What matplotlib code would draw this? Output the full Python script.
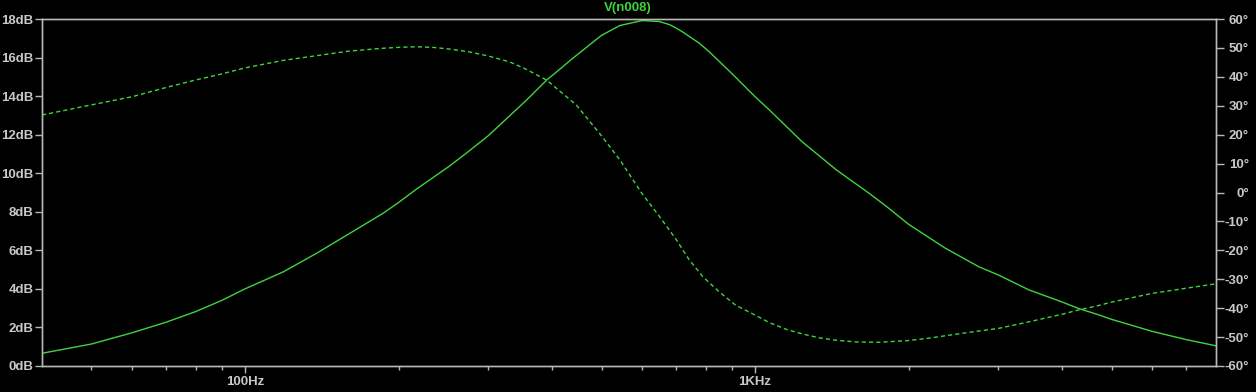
import matplotlib
matplotlib.use("Agg")
import matplotlib.pyplot as plt
from matplotlib.ticker import FixedLocator, NullFormatter

# ---- data (frequency in Hz) ----
mag_freq = [40, 50, 60, 70, 80, 90, 100, 119, 138, 160, 187, 200, 217, 252, 274,
            300, 356, 391, 405, 440, 489, 500, 543, 600, 649, 681, 700, 720, 778,
            813, 900, 1000, 1067, 1237, 1444, 1673, 1752, 1815, 2000, 2358, 2745,
            3000, 3448, 4000, 4311, 4684, 5000, 6000, 7000, 8000]
mag_db = [0.66, 1.14, 1.72, 2.27, 2.82, 3.40, 4.00, 4.89, 5.84, 6.86, 7.94, 8.48,
          9.18, 10.38, 11.12, 11.95, 13.78, 14.85, 15.18, 15.98, 16.95, 17.15,
          17.66, 17.92, 17.87, 17.70, 17.53, 17.34, 16.74, 16.30, 15.18, 13.97,
          13.28, 11.63, 10.17, 8.96, 8.56, 8.25, 7.35, 6.12, 5.15, 4.72, 3.94,
          3.32, 2.98, 2.68, 2.42, 1.80, 1.37, 1.05]

ph_freq = [40, 50, 60, 70, 80, 90, 100, 119, 138, 160, 187, 200, 217, 233, 252,
           274, 300, 330, 356, 391, 405, 446, 500, 543, 600, 649, 700, 743, 790,
           850, 915, 1000, 1067, 1150, 1237, 1340, 1444, 1580, 1752, 2000, 2186,
           2546, 3000, 3448, 4000, 4311, 4684, 5000, 6000, 7000, 8000]
ph_deg = [26.8, 30.3, 33.1, 36.3, 38.9, 41.0, 43.1, 45.7, 47.3, 48.9, 49.9, 50.2,
          50.4, 50.2, 49.6, 48.7, 47.2, 45.2, 42.6, 38.8, 36.5, 30.3, 19.6, 11.3,
          -0.3, -8.2, -16.2, -23.3, -29.1, -34.3, -38.9, -42.4, -45.0, -47.3,
          -48.9, -50.3, -51.1, -51.7, -51.8, -51.2, -50.4, -48.7, -47.0, -44.7,
          -42.1, -40.6, -39.2, -37.9, -34.9, -33.1, -31.6]

x_major = [100, 1000]
x_major_labels = ["100Hz", "1KHz"]
x_minor = [50, 60, 70, 80, 90, 200, 300, 400, 500, 600, 700, 800, 900,
           2000, 3000, 4000, 5000, 6000, 7000]
db_ticks = list(range(0, 19, 2))
db_labels = [f"{v}dB" for v in db_ticks]
deg_ticks = list(range(-60, 61, 10))
deg_labels = [f"{v}\u00b0" for v in deg_ticks]
title = "V(n008)"

# ---- style ----
GREEN = "#3fd43f"
GREY = "#b8b8b8"
LABEL = "#c8c8c8"
FONT = "Liberation Sans"
FS = 9.5

fig = plt.figure(figsize=(12.56, 3.92), dpi=100, facecolor="black")
W, H = 1256, 392
L, R, T, B = 42, 1215.7, 19, 366
ax = fig.add_axes([L / W, (H - B) / H, (R - L) / W, (B - T) / H])
ax.set_facecolor("black")
ax2 = ax.twinx()

ax.plot(mag_freq, mag_db, color=GREEN, lw=1.0, solid_joinstyle="round")
ph_line, = ax2.plot(ph_freq, ph_deg, color=GREEN, lw=1.0)
ph_line.set_dashes([3, 2.2])

ax.set_xscale("log")
ax.set_xlim(40, 8000)
ax.set_ylim(0, 18)
ax2.set_ylim(-60, 60)

ax.xaxis.set_major_locator(FixedLocator(x_major))
ax.set_xticklabels(x_major_labels)
ax.xaxis.set_minor_locator(FixedLocator(x_minor))
ax.xaxis.set_minor_formatter(NullFormatter())

ax.set_yticks(db_ticks)
ax.set_yticklabels(db_labels)
ax2.set_yticks(deg_ticks)
ax2.set_yticklabels(deg_labels)

for a in (ax, ax2):
    for s in a.spines.values():
        s.set_color(GREY)
        s.set_linewidth(1.0)

ax.tick_params(axis="x", which="major", direction="out", length=5, width=1,
               color=GREY, labelcolor=LABEL, pad=2.5)
ax.tick_params(axis="x", which="minor", direction="out", length=2.8, width=1,
               color=GREY)
ax.tick_params(axis="y", which="major", direction="out", length=5, width=1,
               color=GREY, labelcolor=LABEL, pad=1)
ax2.tick_params(axis="y", which="major", direction="out", length=5.5, width=1,
                color=GREY, labelcolor=LABEL, pad=18.5)

for lab in ax.get_xticklabels() + ax.get_yticklabels() + ax2.get_yticklabels():
    lab.set_fontfamily(FONT)
    lab.set_fontweight("bold")
    lab.set_fontsize(FS)
for lab in ax2.get_yticklabels():
    lab.set_horizontalalignment("right")

fig.text(628 / W, 1 - 8.5 / H, title, color=GREEN, fontfamily=FONT,
         fontweight="bold", fontsize=FS, ha="center", va="center")

fig.savefig("out.png", dpi=100, facecolor="black")
